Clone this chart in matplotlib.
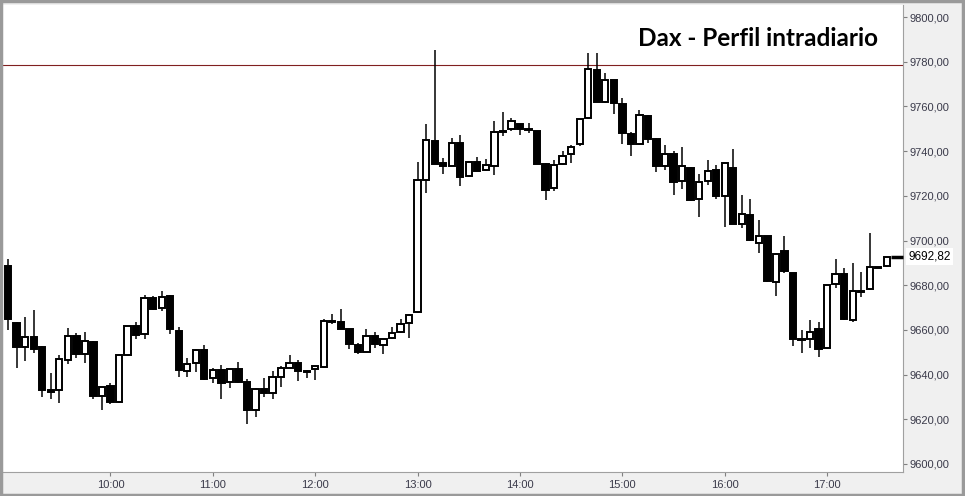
import numpy as np
import matplotlib
matplotlib.use("Agg")
import matplotlib.pyplot as plt
from matplotlib.patches import Rectangle

# velas de 5 minutos desde las 9:00
opens = [9688.6, 9663.0, 9652.2, 9656.7, 9652.4, 9633.0, 9633.0, 9646.4, 9657.1, 9649.1,
         9654.4, 9630.3, 9634.9, 9627.9, 9648.8, 9661.6, 9658.0, 9674.1, 9669.7, 9675.2,
         9659.5, 9641.6, 9645.1, 9650.9, 9638.4, 9641.9, 9636.6, 9642.4, 9636.6, 9624.3,
         9633.6, 9631.9, 9639.1, 9643.1, 9645.1, 9641.5, 9642.4, 9643.5, 9664.0, 9663.5,
         9660.4, 9653.2, 9650.2, 9657.3, 9653.1, 9656.2, 9658.9, 9662.9, 9667.9, 9726.9,
         9744.4, 9734.5, 9733.5, 9743.5, 9728.7, 9735.0, 9731.7, 9733.5, 9748.8, 9749.8,
         9752.0, 9749.8, 9749.0, 9734.2, 9723.4, 9734.1, 9738.6, 9743.0, 9754.7, 9776.3,
         9762.1, 9771.8, 9760.9, 9747.5, 9743.0, 9755.7, 9745.3, 9733.2, 9738.6, 9726.5,
         9732.3, 9718.4, 9726.5, 9731.5, 9719.9, 9732.4, 9707.4, 9711.3, 9698.7, 9701.9,
         9681.3, 9695.2, 9685.3, 9655.7, 9655.8, 9660.3, 9651.8, 9680.4, 9684.9, 9664.3,
         9677.3, 9678.2, 9688.0, 9688.5]
highs = [9691.7, 9663.7, 9665.6, 9668.9, 9652.6, 9640.6, 9648.8, 9660.7, 9658.5, 9659.1,
         9654.9, 9634.5, 9636.1, 9649.0, 9661.8, 9663.5, 9675.6, 9675.3, 9677.4, 9675.6,
         9661.3, 9647.3, 9651.5, 9653.2, 9642.8, 9644.3, 9642.6, 9645.6, 9638.0, 9634.0,
         9638.4, 9641.6, 9643.8, 9648.8, 9646.4, 9641.9, 9644.0, 9664.7, 9667.1, 9669.5,
         9660.6, 9654.1, 9660.5, 9659.1, 9656.0, 9661.2, 9664.7, 9667.1, 9735.0, 9752.0,
         9785.2, 9737.0, 9745.7, 9747.2, 9735.6, 9737.4, 9736.5, 9753.5, 9757.5, 9754.8,
         9752.2, 9752.6, 9749.2, 9734.5, 9736.0, 9740.0, 9742.7, 9754.4, 9783.8, 9783.8,
         9774.8, 9772.0, 9763.6, 9748.4, 9758.4, 9756.0, 9745.9, 9742.6, 9739.9, 9741.7,
         9733.0, 9729.6, 9735.9, 9733.6, 9734.7, 9740.9, 9720.4, 9718.6, 9709.2, 9702.0,
         9694.3, 9701.9, 9685.5, 9659.8, 9664.3, 9663.4, 9680.3, 9691.7, 9687.7, 9689.8,
         9685.9, 9703.4, 9688.2, 9692.6]
lows = [9660.0, 9642.8, 9646.2, 9649.5, 9630.1, 9629.2, 9627.2, 9644.9, 9647.6, 9645.3,
        9628.9, 9624.2, 9626.8, 9627.2, 9648.5, 9655.8, 9655.8, 9669.0, 9668.6, 9658.0,
        9639.1, 9639.1, 9641.3, 9637.7, 9636.4, 9628.9, 9633.9, 9636.1, 9617.8, 9621.2,
        9629.8, 9629.2, 9634.6, 9643.0, 9637.3, 9638.6, 9637.6, 9643.1, 9662.5, 9660.3,
        9651.6, 9649.4, 9650.1, 9651.8, 9649.2, 9656.0, 9658.7, 9656.2, 9667.7, 9721.4,
        9734.2, 9729.9, 9733.3, 9724.5, 9728.5, 9731.0, 9731.2, 9729.4, 9746.9, 9748.8,
        9747.3, 9748.2, 9734.2, 9718.1, 9722.3, 9734.0, 9734.8, 9742.1, 9754.5, 9762.0,
        9761.4, 9756.7, 9743.0, 9737.9, 9742.6, 9743.5, 9730.8, 9731.7, 9720.2, 9723.2,
        9717.5, 9710.4, 9725.0, 9718.4, 9706.0, 9707.3, 9705.5, 9699.6, 9694.5, 9681.5,
        9675.0, 9685.3, 9652.7, 9649.5, 9651.8, 9647.7, 9651.6, 9678.6, 9664.5, 9663.4,
        9674.8, 9678.0, 9687.6, 9688.0]
closes = [9664.9, 9652.5, 9656.7, 9651.6, 9633.0, 9632.2, 9646.9, 9657.1, 9649.1, 9654.9,
          9630.3, 9634.3, 9627.7, 9648.6, 9661.6, 9657.9, 9674.1, 9669.5, 9674.6, 9660.3,
          9641.9, 9644.6, 9650.9, 9638.2, 9641.9, 9636.4, 9642.4, 9636.8, 9624.3, 9633.6,
          9631.9, 9638.8, 9642.8, 9645.1, 9641.5, 9641.3, 9643.9, 9664.0, 9663.7, 9660.5,
          9653.8, 9650.0, 9657.3, 9653.6, 9655.8, 9658.5, 9662.5, 9666.5, 9726.9, 9745.0,
          9734.4, 9733.5, 9743.5, 9728.5, 9735.0, 9731.2, 9733.6, 9748.5, 9748.5, 9753.5,
          9749.8, 9749.3, 9734.4, 9722.7, 9733.6, 9737.7, 9741.7, 9754.2, 9776.6, 9762.1,
          9771.7, 9761.4, 9748.0, 9743.0, 9756.0, 9745.5, 9733.5, 9738.6, 9726.3, 9733.2,
          9718.3, 9726.0, 9731.2, 9719.8, 9734.5, 9707.5, 9711.7, 9700.1, 9701.9, 9681.7,
          9693.8, 9686.2, 9655.8, 9655.5, 9659.2, 9651.3, 9680.0, 9684.9, 9664.7, 9677.3,
          9677.0, 9688.0, 9687.8, 9692.5]

hour_labels = ["10:00", "11:00", "12:00", "13:00", "14:00", "15:00", "16:00", "17:00"]
y_ticks = [9600, 9620, 9640, 9660, 9680, 9700, 9720, 9740, 9760, 9780, 9800]
resistencia = 9778.5
ultimo = 9692.82

fig = plt.figure(figsize=(9.65, 4.96), dpi=100, facecolor="#f0f0f0")
ax = fig.add_axes([0.0031, 0.0484, 0.9327, 0.9415])
ax.set_facecolor("white")

x = np.arange(len(opens))
ax.vlines(x, lows, highs, color="black", lw=1.1, zorder=2)
for i in x:
    o, c = opens[i], closes[i]
    sube = c >= o and i not in (58, 61, 100, 102)
    h = max(abs(c - o), 0.35)
    ax.add_patch(Rectangle((i - 0.37, min(o, c)), 0.74, h,
                           facecolor="white" if sube else "black",
                           edgecolor="black", lw=1.4, zorder=3))

ax.axhline(resistencia, color="#802020", lw=0.8, zorder=1)
ax.plot([103.5, 104.9], [ultimo, ultimo], color="black", lw=2.5,
        dashes=(5, 3), zorder=4, clip_on=False)

ax.set_xlim(-0.6, 104.9)
ax.set_ylim(9596.4, 9805.4)

ax.yaxis.tick_right()
ax.set_yticks(y_ticks)
ax.set_yticklabels([f"{v:.2f}".replace(".", ",") for v in y_ticks],
                   fontsize=8, color="#3a3a4a", family="Liberation Sans")
ax.tick_params(axis="y", length=3, width=0.8, color="#808080", pad=2)
ax.set_xticks([12 * (k + 1) for k in range(len(hour_labels))])
ax.set_xticklabels(hour_labels, fontsize=8, color="#3a3a4a", family="Liberation Sans")
ax.tick_params(axis="x", length=3, width=0.8, color="#808080", pad=3)

for s in ["top", "left"]:
    ax.spines[s].set_visible(False)
for s in ["right", "bottom"]:
    ax.spines[s].set_color("#a0a0a0")

ax.text(1.006, (ultimo - 9596.4) / (9805.4 - 9596.4), f"{ultimo:.2f}".replace(".", ","),
        transform=ax.transAxes, fontsize=8.5, color="black", family="Liberation Sans",
        va="center", ha="left",
        bbox=dict(boxstyle="square,pad=0.2", facecolor="white", edgecolor="none"))

fig.text(0.786, 0.922, "Dax - Perfil intradiario", fontsize=17.5, fontweight="bold",
         family="Lato", ha="center", va="center", color="black")

fig.patches.append(Rectangle((0.001, 0.002), 0.997, 0.996, transform=fig.transFigure,
                             fill=False, edgecolor="#9a9a9a", lw=2.5))

fig.savefig("out.png", dpi=100, facecolor=fig.get_facecolor())
